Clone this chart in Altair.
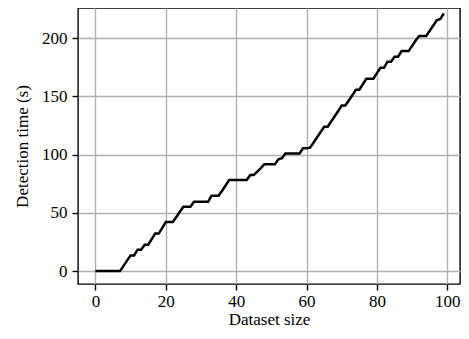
import altair as alt
import pandas as pd

dataset_size = list(range(100))
detection_time = [
    0, 0, 0, 0, 0, 0, 0, 0, 4.5, 9,
    13.5, 13.5, 18.4, 18.4, 22.7, 22.7, 27.5, 32.2, 32.2, 37.2,
    42.2, 42.2, 42.2, 46.5, 51, 55.2, 55.2, 55.2, 59.5, 59.5,
    59.5, 59.5, 59.5, 64.7, 64.7, 64.7, 69, 73.5, 78.2, 78.2,
    78.2, 78.2, 78.2, 78.2, 82.5, 82.5, 85.5, 88.5, 91.7, 91.7,
    91.7, 91.7, 96, 97, 101, 101, 101, 101, 101, 105.5,
    105.5, 106, 110.5, 115, 119.5, 124, 124, 128.5, 133, 137.5,
    142.2, 142.2, 146.5, 151, 155.8, 155.8, 160.5, 165.3, 165.3, 165.3,
    170, 174.6, 174.6, 179.9, 179.9, 184.2, 184.2, 189, 189, 189,
    193.5, 198, 202, 202, 202, 206.5, 211, 215.5, 216.5, 221.3,
]
x_ticks = [0, 20, 40, 60, 80, 100]
y_ticks = [0, 50, 100, 150, 200]

df = pd.DataFrame({"x": dataset_size, "y": detection_time})

FONT = "Liberation Serif"

chart = (
    alt.Chart(df)
    .mark_line(color="black", strokeWidth=2.5)
    .encode(
        x=alt.X(
            "x:Q",
            scale=alt.Scale(domain=[-4.94, 103.6], nice=False, zero=False),
            axis=alt.Axis(
                values=x_ticks,
                title="Dataset size",
                format="d",
                titlePadding=2,
                labelPadding=3,
            ),
        ),
        y=alt.Y(
            "y:Q",
            scale=alt.Scale(domain=[-11.07, 226.0], nice=False, zero=False),
            axis=alt.Axis(
                values=y_ticks,
                title="Detection time (s)",
                format="d",
                titlePadding=10,
                labelPadding=5,
            ),
        ),
    )
    .properties(
        width=382,
        height=276,
        autosize=alt.AutoSizeParams(type="none"),
        padding={"left": 70, "top": 0, "right": 1, "bottom": 47},
    )
    .configure_view(stroke="black", strokeWidth=1.4)
    .configure_axis(
        domain=False,
        grid=True,
        gridColor="#b0b0b0",
        gridWidth=1.4,
        tickColor="black",
        tickWidth=1.4,
        tickSize=6,
        labelFont=FONT,
        labelFontSize=17,
        labelColor="black",
        titleFont=FONT,
        titleFontSize=17,
        titleFontWeight="normal",
        titleColor="black",
    )
)

chart.save("out.html", embed_options={"renderer": "svg", "actions": False})
